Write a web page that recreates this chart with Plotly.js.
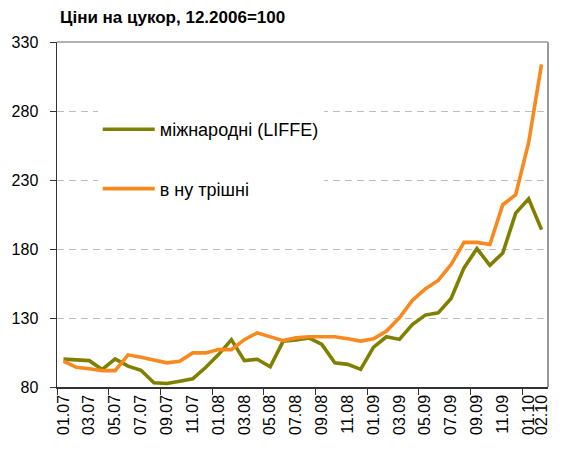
<!DOCTYPE html>
<html>
<head>
<meta charset="utf-8">
<script src="https://cdn.plot.ly/plotly-3.0.1.min.js"></script>
<style>html,body{margin:0;padding:0;background:#fff;}#chart{width:565px;height:451px;}</style>
</head>
<body>
<div id="chart"></div>
<script>
const months = ["01.07","02.07","03.07","04.07","05.07","06.07","07.07","08.07","09.07","10.07","11.07","12.07",
  "01.08","02.08","03.08","04.08","05.08","06.08","07.08","08.08","09.08","10.08","11.08","12.08",
  "01.09","02.09","03.09","04.09","05.09","06.09","07.09","08.09","09.09","10.09","11.09","12.09",
  "01.10","02.10"];
const international = [100.2, 99.5, 99.1, 92.7, 100.4, 95.1, 92.1, 83.1, 82.5, 84.1, 85.9, 94.1,
  103.5, 114.3, 99.1, 100.1, 94.6, 113.1, 114.0, 115.6, 110.9, 97.6, 96.4, 92.8,
  108.9, 116.4, 114.5, 125.3, 132.1, 133.7, 144.1, 166.3, 180.3, 168.2, 177.1, 206.0,
  216.4, 194.0];
const domestic = [98.7, 94.3, 93.2, 91.9, 91.9, 103.3, 101.5, 99.2, 97.5, 98.7, 104.7, 104.7,
  107.1, 107.1, 114.3, 119.2, 116.3, 113.6, 115.6, 116.4, 116.4, 116.4, 114.9, 113.3,
  114.9, 120.5, 130.1, 142.7, 151.1, 157.2, 168.7, 184.8, 184.8, 183.2, 212.1, 219.3,
  257.0, 313.8];
const seriesNames = ["міжнародні (LIFFE)", "в ну трішні"];
const titleText = "Ціни на цукор, 12.2006=100";
const yTicks = [80, 130, 180, 230, 280, 330];

const idx = months.map((m, i) => i);
const labelIdx = idx.filter(i => i % 2 === 0 || i === months.length - 1);
const minorIdx = idx.filter(i => i % 4 === 0).map(i => i - 0.5);

const FONT = "Liberation Sans, Arial, sans-serif";

const traces = [
  {x: idx, y: international, type: "scatter", mode: "lines", name: seriesNames[0],
   line: {color: "#808000", width: 3.6}, legendgroup: "a"},
  {x: idx, y: domestic, type: "scatter", mode: "lines", name: seriesNames[1],
   line: {color: "#F7891F", width: 3.6}, legendgroup: "b"}
];

const layout = {
  width: 565, height: 451,
  margin: {l: 57, r: 17, t: 42, b: 64},
  paper_bgcolor: "#fff", plot_bgcolor: "#fff",
  font: {family: FONT, size: 16, color: "#000"},
  title: {text: "<b>" + titleText + "</b>", x: 60/565, xanchor: "left", xref: "container",
          y: 1, yref: "container", yanchor: "top", pad: {t: 11},
          font: {family: FONT, size: 17, color: "#000"}},
  showlegend: true,
  legend: {x: 0.083, xanchor: "left", y: 0.80, yanchor: "top",
           bgcolor: "#fff", borderwidth: 0, traceorder: "grouped", tracegroupgap: 33,
           itemwidth: 52, font: {family: FONT, size: 18, color: "#000"}},
  xaxis: {
    range: [-0.5, months.length - 0.5], tickmode: "array", tickvals: labelIdx,
    ticktext: labelIdx.map(i => months[i]), tickangle: -90, ticks: "",
    showgrid: false, zeroline: false, showline: true, linecolor: "#333", linewidth: 1.5,
    tickfont: {family: FONT, size: 16, color: "#000"},
    minor: {tickmode: "array", tickvals: minorIdx, ticks: "outside", ticklen: 6,
            tickcolor: "#333", tickwidth: 1, showgrid: false},
    fixedrange: true
  },
  yaxis: {
    range: [80, 330], tickmode: "array", tickvals: yTicks, ticks: "outside", ticklen: 6,
    tickcolor: "#333", showline: true, linecolor: "#333", linewidth: 1.5, zeroline: false,
    showgrid: true, gridcolor: "#BDBDBD", griddash: "7px,5px", gridwidth: 1,
    ticklabelstandoff: 8,
    tickfont: {family: FONT, size: 16, color: "#000"}, fixedrange: true
  },
  shapes: [
    {type: "line", xref: "paper", yref: "paper", x0: 0, x1: 1, y0: 1, y1: 1,
     line: {color: "#999", width: 1.5}},
    {type: "line", xref: "paper", yref: "paper", x0: 1, x1: 1, y0: 0, y1: 1,
     line: {color: "#999", width: 2}}
  ]
};

Plotly.newPlot("chart", traces, layout, {displayModeBar: false, staticPlot: true});
</script>
</body>
</html>
